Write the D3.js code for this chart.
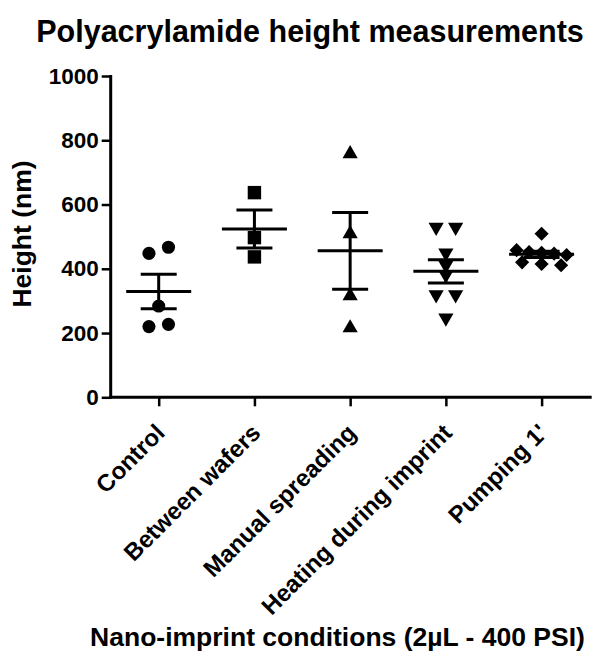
<!DOCTYPE html>
<html>
<head>
<meta charset="utf-8">
<script src="https://cdn.jsdelivr.net/npm/d3@7"></script>
<style>
  html, body { margin: 0; padding: 0; background: #fff; }
  svg { display: block; font-family: "Liberation Sans", Arial, sans-serif; }
</style>
</head>
<body>
<svg id="chart" width="598" height="653"></svg>
<script>
// ---- data ----
const categories = ["Control", "Between wafers", "Manual spreading", "Heating during imprint", "Pumping 1'"];
const control = [448, 467, 284, 220, 227];
const betweenWafers = [637, 497, 437];
const manualSpreading = [764, 515, 322, 222];
const heatingDuringImprint = [523, 523, 443, 405, 375, 313, 313, 241];
const pumping1 = [509, 458, 452, 450, 447, 443, 420, 415, 411];
const yTicks = [0, 200, 400, 600, 800, 1000];
const title = "Polyacrylamide height measurements";
const yTitle = "Height (nm)";
const xTitle = "Nano-imprint conditions (2\u00b5L - 400 PSI)";

const groups = [control, betweenWafers, manualSpreading, heatingDuringImprint, pumping1];
const symbolTypes = ["circle", "square", "triangle", "triangleDown", "diamond"];

// ---- layout ----
const svg = d3.select("#chart");
const plotLeft = 110.7, plotRight = 591.7, plotTop = 76, plotBottom = 397.3;

const y = d3.scaleLinear().domain([0, 1000]).range([plotBottom, plotTop]);
const x = d3.scalePoint().domain(categories).range([158.7, 541.6]);

// title
svg.append("text").attr("x", 310).attr("y", 42).attr("text-anchor", "middle")
  .attr("font-size", 30.5).attr("font-weight", "bold").text(title);

// y axis
const yAxis = d3.axisLeft(y).tickValues(yTicks).tickSize(9).tickPadding(3).tickFormat(d3.format("d"));
const gy = svg.append("g").attr("transform", `translate(${plotLeft},0)`).call(yAxis);
gy.select(".domain").remove();
gy.selectAll(".tick line").attr("stroke", "#000").attr("stroke-width", 2.5);
gy.selectAll(".tick text").attr("font-size", 22.5).attr("font-weight", "bold").attr("fill", "#000")
  .attr("font-family", "Liberation Sans, Arial, sans-serif");

// x axis
const xAxis = d3.axisBottom(x).tickSize(9).tickFormat(d => d);
const gx = svg.append("g").attr("transform", `translate(0,${plotBottom})`).call(xAxis);
gx.select(".domain").remove();
gx.selectAll(".tick line").attr("stroke", "#000").attr("stroke-width", 2.5);
gx.selectAll(".tick text")
  .attr("font-size", 24).attr("font-weight", "bold").attr("fill", "#000")
  .attr("font-family", "Liberation Sans, Arial, sans-serif")
  .attr("text-anchor", "end").attr("dy", null).attr("y", null)
  .attr("transform", "translate(7,37) rotate(-45)");

// axis lines
svg.append("line").attr("x1", plotLeft).attr("x2", plotLeft).attr("y1", plotTop - 1).attr("y2", plotBottom + 1.5)
  .attr("stroke", "#000").attr("stroke-width", 3);
svg.append("line").attr("x1", plotLeft - 1.5).attr("x2", plotRight).attr("y1", plotBottom).attr("y2", plotBottom)
  .attr("stroke", "#000").attr("stroke-width", 3);

// axis titles
svg.append("text").attr("transform", `translate(31,234) rotate(-90)`).attr("text-anchor", "middle")
  .attr("font-size", 26.5).attr("font-weight", "bold").text(yTitle);
svg.append("text").attr("x", 337.5).attr("y", 646).attr("text-anchor", "middle")
  .attr("font-size", 26.5).attr("font-weight", "bold").text(xTitle);

// point layout: group points with similar values into rows, spread them horizontally
function layoutPoints(values) {
  const order = values.map((v, i) => i).sort((a, b) => values[b] - values[a]);
  const rows = [];
  order.forEach(i => {
    const row = rows[rows.length - 1];
    if (row && Math.abs(y(values[i]) - y(values[row[0]])) < 9) row.push(i);
    else rows.push([i]);
  });
  const offs = new Array(values.length).fill(0);
  rows.forEach(row => {
    row.sort((a, b) => a - b);
    const k = row.length;
    const sp = k > 1 ? Math.min(19.5, 50 / (k - 1)) : 0;
    row.forEach((i, j) => { offs[i] = (j - (k - 1) / 2) * sp; });
  });
  return offs;
}

function symbolPath(type) {
  if (type === "circle") return { d: d3.symbol(d3.symbolCircle, 135)(), rot: 0, dy: 0 };
  if (type === "square") return { d: d3.symbol(d3.symbolSquare, 180)(), rot: 0, dy: 0 };
  if (type === "triangle") return { d: d3.symbol(d3.symbolTriangle, 100)(), rot: 0, dy: 2 };
  if (type === "triangleDown") return { d: d3.symbol(d3.symbolTriangle, 100)(), rot: 180, dy: -2 };
  return { d: d3.symbol(d3.symbolSquare, 100)(), rot: 45, dy: 0 };
}

groups.forEach((vals, gi) => {
  const cx = x(categories[gi]);
  const offs = layoutPoints(vals);
  const sym = symbolPath(symbolTypes[gi]);
  const g = svg.append("g");
  g.selectAll("path").data(vals).join("path")
    .attr("d", sym.d)
    .attr("transform", (d, i) => `translate(${cx + offs[i]},${y(d) + sym.dy}) rotate(${sym.rot})`)
    .attr("fill", "#000");

  const mean = d3.mean(vals);
  const sem = d3.deviation(vals) / Math.sqrt(vals.length);
  const eg = svg.append("g").attr("stroke", "#000").attr("stroke-width", 3);
  eg.append("line").attr("x1", cx - 32.5).attr("x2", cx + 32.5).attr("y1", y(mean)).attr("y2", y(mean));
  eg.append("line").attr("x1", cx).attr("x2", cx).attr("y1", y(mean + sem)).attr("y2", y(mean - sem));
  eg.append("line").attr("x1", cx - 18).attr("x2", cx + 18).attr("y1", y(mean + sem)).attr("y2", y(mean + sem));
  eg.append("line").attr("x1", cx - 18).attr("x2", cx + 18).attr("y1", y(mean - sem)).attr("y2", y(mean - sem));
});
</script>
</body>
</html>
